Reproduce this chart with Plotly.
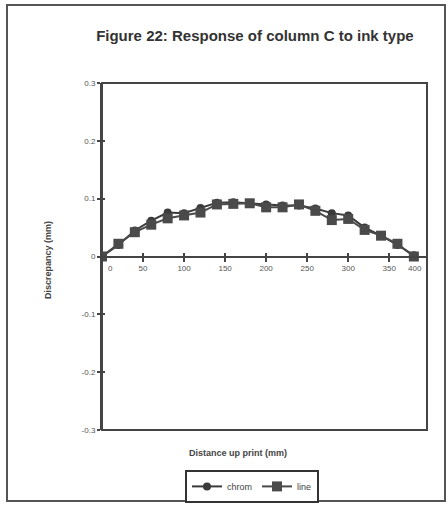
import plotly.graph_objects as go

# Distance up the print (mm) and measured discrepancy (mm) for each ink type
distance = [0, 20, 40, 60, 80, 100, 120, 140, 160, 180,
            200, 220, 240, 260, 280, 300, 320, 340, 360, 380]
chrom = [0.000, 0.020, 0.045, 0.062, 0.076, 0.075, 0.084, 0.093, 0.094, 0.092,
         0.090, 0.088, 0.088, 0.083, 0.075, 0.071, 0.050, 0.036, 0.020, 0.002]
line = [0.000, 0.022, 0.042, 0.055, 0.066, 0.071, 0.076, 0.090, 0.091, 0.092,
        0.085, 0.085, 0.090, 0.079, 0.063, 0.065, 0.046, 0.036, 0.022, 0.000]

x_ticks = [50, 100, 150, 200, 250, 300, 350]
y_ticks = [-0.3, -0.2, -0.1, 0, 0.1, 0.2, 0.3]
y_tick_text = ["-0.3", "-0.2", "-0.1", "0", "0.1", "0.2", "0.3"]
x_end_labels = ["0", "400"]

X_RANGE = [0, 396]
Y_RANGE = [-0.3, 0.3]

INK = "#3a3a3a"
AXIS = "#444444"
FONT = "Liberation Sans, Arial, sans-serif"

fig = go.Figure()

fig.add_trace(go.Scatter(
    x=distance, y=chrom, name="chrom", mode="lines+markers",
    line=dict(color=INK, width=2),
    marker=dict(symbol="circle", size=8, color=INK),
))
fig.add_trace(go.Scatter(
    x=distance, y=line, name="line", mode="lines+markers",
    line=dict(color="#4a4a4a", width=2),
    marker=dict(symbol="square", size=10, color="#4a4a4a"),
))

tick_font = dict(family=FONT, size=8, color="#555555")

fig.update_layout(
    width=448, height=506,
    margin=dict(l=102, r=21, t=83, b=76, autoexpand=False),
    paper_bgcolor="white", plot_bgcolor="white",
    font=dict(family=FONT, color="#333333"),
    title=dict(
        text="<b>Figure 22: Response of column C to ink type</b>",
        x=0.569, xanchor="center", y=1 - 36 / 506, yanchor="middle",
        font=dict(family=FONT, size=15, color="#333333"),
    ),
    # x axis drawn along y = 0 with labels below, ticks crossing the line
    xaxis=dict(
        range=X_RANGE, anchor="free", position=0.5,
        showline=True, linecolor=AXIS, linewidth=2,
        tickmode="array", tickvals=x_ticks, ticktext=[str(v) for v in x_ticks],
        ticks="outside", ticklen=4, tickwidth=2, tickcolor=AXIS,
        tickfont=tick_font, showgrid=False, zeroline=False,
    ),
    xaxis2=dict(
        range=X_RANGE, overlaying="x", anchor="free", position=0.5,
        tickmode="array", tickvals=x_ticks, showticklabels=False,
        ticks="inside", ticklen=4, tickwidth=2, tickcolor=AXIS,
        showline=False, showgrid=False, zeroline=False,
    ),
    yaxis=dict(
        range=Y_RANGE, showline=True, linecolor=AXIS, linewidth=2,
        tickmode="array", tickvals=y_ticks, ticktext=y_tick_text,
        ticks="outside", ticklen=3, tickwidth=2, tickcolor=AXIS,
        tickfont=tick_font, showgrid=False, zeroline=False,
    ),
    yaxis2=dict(
        range=Y_RANGE, overlaying="y", anchor="x",
        tickmode="array", tickvals=[v for v in y_ticks if v != 0],
        showticklabels=False,
        ticks="inside", ticklen=3, tickwidth=2, tickcolor=AXIS,
        showline=False, showgrid=False, zeroline=False,
    ),
    legend=dict(
        orientation="h", x=0.4615, xanchor="center", y=-0.115, yanchor="top",
        bordercolor="#333333", borderwidth=2, bgcolor="white",
        font=dict(family=FONT, size=9, color="#444444"),
        itemwidth=30, tracegroupgap=0,
    ),
    showlegend=True,
)

# Hidden trace so the overlay axes are rendered
fig.add_trace(go.Scatter(x=[None], y=[None], xaxis="x2", yaxis="y2",
                         showlegend=False, hoverinfo="skip"))

# Plot-area box
fig.add_shape(type="rect", xref="x domain", yref="y domain",
              x0=0, x1=1, y0=0, y1=1, line=dict(color=AXIS, width=2),
              layer="above")
# Outer chart frame
fig.add_shape(type="rect", xref="paper", yref="paper",
              x0=(7 - 102) / 325, x1=(445 - 102) / 325,
              y0=(430 - 501) / 347, y1=(430 - 5) / 347,
              line=dict(color="#555555", width=2), layer="below")

# End labels of the distance axis, kept inside the plot box
fig.add_annotation(x=X_RANGE[0], y=0, text=x_end_labels[0], showarrow=False,
                   xanchor="left", yanchor="top", xshift=4, yshift=-5,
                   font=tick_font)
fig.add_annotation(x=X_RANGE[1], y=0, text=x_end_labels[1], showarrow=False,
                   xanchor="right", yanchor="top", xshift=-3, yshift=-5,
                   font=tick_font)

# Axis titles
fig.add_annotation(xref="paper", yref="paper", x=(238 - 102) / 325,
                   y=(430 - 453) / 347, text="<b>Distance up print (mm)</b>",
                   showarrow=False, xanchor="center", yanchor="middle",
                   font=dict(family=FONT, size=9, color="#444444"))
fig.add_annotation(xref="paper", yref="paper", x=(48 - 102) / 325,
                   y=(430 - 260) / 347, text="<b>Discrepancy (mm)</b>",
                   textangle=-90, showarrow=False, xanchor="center",
                   yanchor="middle",
                   font=dict(family=FONT, size=9, color="#444444"))

fig.write_html("out.html")
